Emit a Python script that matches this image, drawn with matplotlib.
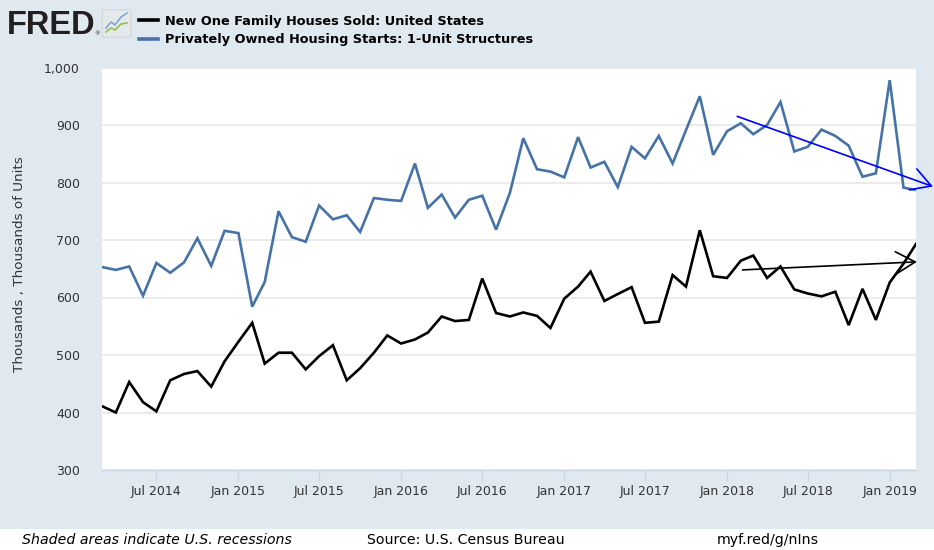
import matplotlib
matplotlib.use("Agg")
import matplotlib.pyplot as plt
import matplotlib.dates as mdates
from matplotlib.patches import Rectangle, FancyBboxPatch
from matplotlib.lines import Line2D
from matplotlib.ticker import FuncFormatter, FixedLocator
import pandas as pd

# ---------------- data ----------------
months = pd.date_range("2014-03-01", "2019-03-01", freq="MS")

houses_sold = [
    411, 400, 453, 418, 402, 456, 467, 472, 445, 489,              # 2014 Mar-Dec
    523, 556, 485, 504, 504, 475, 498, 517, 456, 477, 504, 534,    # 2015
    520, 527, 539, 567, 559, 561, 633, 573, 567, 574, 568, 547,    # 2016
    598, 619, 645, 594, 606, 618, 556, 558, 639, 619, 717, 637,    # 2017
    634, 664, 673, 634, 654, 614, 607, 602, 610, 552, 615, 561,    # 2018
    626, 659, 693,                                                 # 2019 Jan-Mar
]

housing_starts = [
    653, 648, 654, 603, 660, 643, 661, 703, 655, 716,              # 2014 Mar-Dec
    712, 584, 627, 750, 705, 697, 760, 736, 743, 714, 773, 770,    # 2015
    768, 833, 756, 779, 739, 770, 777, 718, 782, 877, 823, 819,    # 2016
    809, 879, 826, 836, 792, 862, 842, 881, 833, 891, 950, 848,    # 2017
    889, 903, 884, 900, 940, 854, 862, 892, 881, 864, 810, 816,    # 2018
    978, 791, 787,                                                 # 2019 Jan-Mar
]

series_names = [
    "New One Family Houses Sold: United States",
    "Privately Owned Housing Starts: 1-Unit Structures",
]
y_ticks = [300, 400, 500, 600, 700, 800, 900, 1000]
x_tick_dates = pd.date_range("2014-07-01", "2019-01-01", freq="6MS")
y_label = "Thousands , Thousands of Units"

# hand-drawn trend arrows (start date, start value, end date, end value)
blue_arrow = ("2018-01-24", 915, "2019-04-08", 793)
black_arrow = ("2018-02-05", 648, "2019-03-03", 662)

footer_left = "Shaded areas indicate U.S. recessions"
footer_mid = "Source: U.S. Census Bureau"
footer_right = "myf.red/g/nIns"

# ---------------- figure ----------------
W, H = 934, 550
BG = "#e1e9f0"
BLUE = "#4572a7"
TICK_COL = "#333333"
fig = plt.figure(figsize=(W / 100, H / 100), dpi=100, facecolor="white")
fig.add_artist(Rectangle((0, 21 / H), 1, 1 - 21 / H, transform=fig.transFigure,
                         facecolor=BG, edgecolor="none", zorder=-5))

left, right, top, bottom = 102, 916, 67.5, 470
ax = fig.add_axes([left / W, 1 - bottom / H, (right - left) / W, (bottom - top) / H])
ax.set_facecolor("white")

l1, = ax.plot(months, houses_sold, color="black", lw=1.9, solid_joinstyle="miter")
l2, = ax.plot(months, housing_starts, color=BLUE, lw=1.9, solid_joinstyle="miter")

ax.set_xlim(months[0], months[-1])
ax.set_ylim(300, 1000)
ax.yaxis.set_major_locator(FixedLocator(y_ticks))
ax.yaxis.set_major_formatter(FuncFormatter(lambda v, p: f"{int(v):,}"))
ax.set_xticks(x_tick_dates)
ax.xaxis.set_major_formatter(mdates.DateFormatter("%b %Y"))

ax.grid(axis="y", color="#e8e8e8", lw=1.2)
ax.set_axisbelow(True)
for s in ["top", "right", "left"]:
    ax.spines[s].set_visible(False)
ax.spines["bottom"].set_color("#ccd6e6")
ax.spines["bottom"].set_linewidth(1)

ax.tick_params(axis="y", length=0, pad=16, labelsize=9, labelcolor=TICK_COL)
ax.tick_params(axis="x", length=8, width=1, color="#ccd6e6", direction="out",
               pad=3, labelsize=9, labelcolor=TICK_COL)

fig.text(20 / W, 1 - 264 / H, y_label, rotation=90, ha="center", va="center",
         fontsize=9.7, color=TICK_COL)

# trend arrows
for (d0, v0, d1, v1), col in [(blue_arrow, "#0000ff"), (black_arrow, "black")]:
    ax.annotate("", xy=(pd.Timestamp(d1), v1), xytext=(pd.Timestamp(d0), v0),
                annotation_clip=False,
                arrowprops=dict(arrowstyle="->,head_length=0.7,head_width=0.4",
                                color=col, lw=1.2, shrinkA=0, shrinkB=0,
                                mutation_scale=20))

# legend
fig.legend(handles=[l1, l2], labels=series_names, loc="upper left",
           bbox_to_anchor=(139 / W, 1 - 14.5 / H), frameon=False,
           prop={"family": "DejaVu Sans", "weight": "bold", "size": 9.3},
           handlelength=1.5, handletextpad=0.5, labelspacing=0.45,
           borderaxespad=0, borderpad=0)
for lh in fig.legends[0].get_lines():
    lh.set_linewidth(2.6)

# FRED logo
fig.text(7 / W, 1 - 34.5 / H, "FRED", fontsize=23.5, fontweight="bold",
         family="Liberation Sans", color="#231f20", va="baseline", ha="left")
fig.text(94 / W, 1 - 35 / H, "®", fontsize=4, color="#231f20", va="baseline")
fig.add_artist(FancyBboxPatch((104 / W, 1 - 36 / H), 25 / W, 25 / H,
                              boxstyle="round,pad=0.002", transform=fig.transFigure,
                              facecolor="#e6e9ec", edgecolor="#c9ced3", lw=0.6))
fig.add_artist(Line2D([106 / W, 111 / W, 115 / W, 121 / W, 127 / W],
                      [1 - 28 / H, 1 - 22 / H, 1 - 25 / H, 1 - 17 / H, 1 - 13 / H],
                      transform=fig.transFigure, color="#7fa7d8", lw=1.2))
fig.add_artist(Line2D([106 / W, 111 / W, 115 / W, 121 / W, 127 / W],
                      [1 - 32 / H, 1 - 28 / H, 1 - 30 / H, 1 - 24 / H, 1 - 23 / H],
                      transform=fig.transFigure, color="#8cc34a", lw=1.2))

# footer
fig.text(22 / W, 1 - 540 / H, footer_left, fontsize=10.2, style="italic",
         color="black", va="center", ha="left")
fig.text(367 / W, 1 - 540 / H, footer_mid, fontsize=10.2, color="black",
         va="center", ha="left")
fig.text(717 / W, 1 - 540 / H, footer_right, fontsize=10.2, color="black",
         va="center", ha="left")

fig.savefig("out.png", dpi=100, facecolor=fig.get_facecolor())
